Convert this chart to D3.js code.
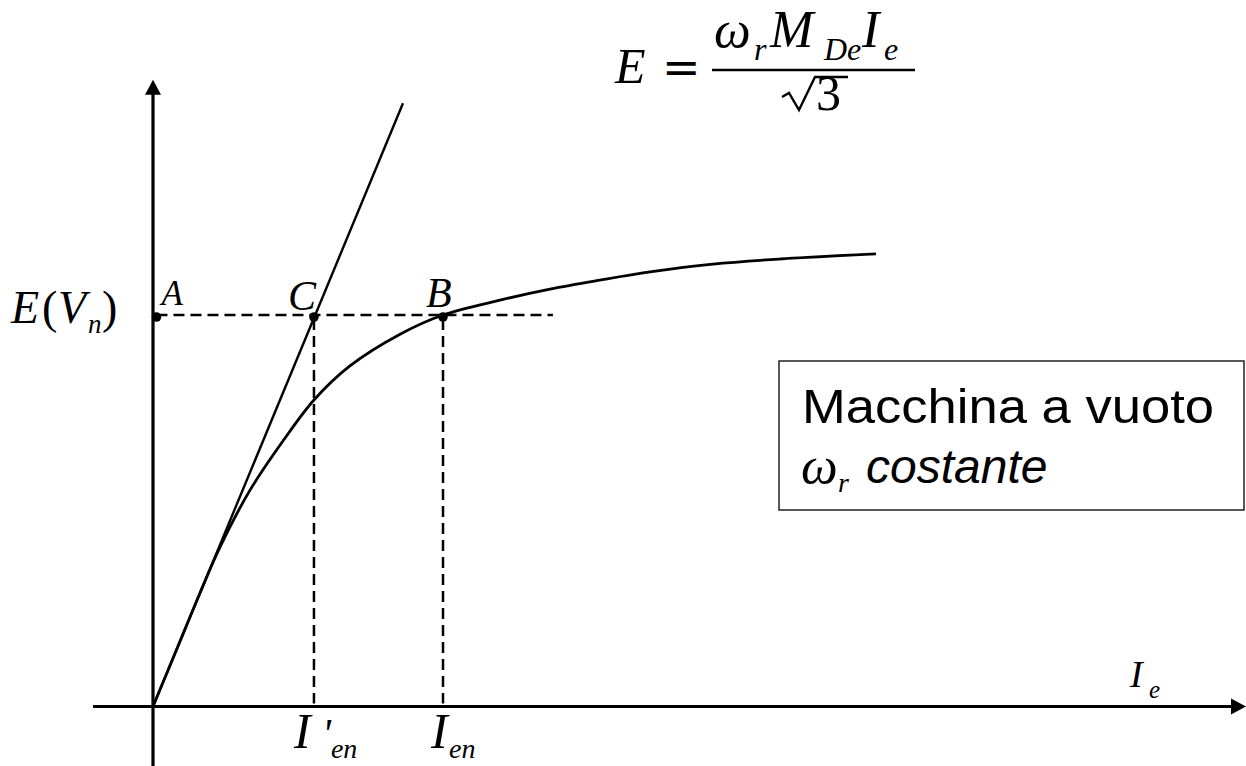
<!DOCTYPE html>
<html>
<head>
<meta charset="utf-8">
<script src="https://cdn.jsdelivr.net/npm/d3@7"></script>
<style>
  body { margin: 0; background: #fff; }
  svg { display: block; }
</style>
</head>
<body>
<script>
// magnetisation curve E(Ie), normalised so that B = (Ien, Vn) = (1, 1)
var curveIe = [0, 0.114, 0.162, 0.231, 0.334, 0.448, 0.555, 0.679, 0.852, 1.0, 1.197, 1.369, 1.541, 1.714, 1.931, 2.162, 2.493];
var curveE  = [0, 0.204, 0.290, 0.407, 0.552, 0.678, 0.783, 0.870, 0.951, 1.0, 1.038, 1.066, 1.089, 1.110, 1.130, 1.143, 1.156];

// air gap line (tangent at the origin)
var tangentIe = [0, 0.862];
var tangentE  = [0, 1.541];

var pointLabels = ['A', 'C', 'B'];
var pointIe = [0.012, 0.555, 1.0];
var Vn = 1.0;
var IenPrime = 0.555;
var Ien = 1.0;
var dashEnd = 1.379;

var axisIe = [-0.207, 3.769];
var axisE = [-0.152, 1.601];

var width = 1246, height = 766;
var serif = '"Liberation Serif", "Times New Roman", serif';
var sans = '"Liberation Sans", Arial, sans-serif';

var svg = d3.select('body').append('svg')
    .attr('width', width)
    .attr('height', height);

var x = d3.scaleLinear().domain([0, 1]).range([153, 443]);
var y = d3.scaleLinear().domain([0, 1]).range([706.5, 315]);

// dashed construction lines
var dashed = svg.append('g')
    .attr('stroke', '#000')
    .attr('stroke-width', 2.5)
    .attr('stroke-dasharray', '11,6');

dashed.append('line')
    .attr('x1', x(pointIe[0])).attr('x2', x(dashEnd))
    .attr('y1', y(Vn)).attr('y2', y(Vn));

[IenPrime, Ien].forEach(function (v) {
    dashed.append('line')
        .attr('x1', x(v)).attr('x2', x(v))
        .attr('y1', y(Vn) + 4).attr('y2', y(0) - 3);
});

// curve and tangent
var line = d3.line()
    .x(function (d) { return x(d[0]); })
    .y(function (d) { return y(d[1]); });

svg.append('path')
    .datum(d3.zip(curveIe, curveE))
    .attr('d', line.curve(d3.curveCatmullRom.alpha(0.5)))
    .attr('fill', 'none')
    .attr('stroke', '#000')
    .attr('stroke-width', 2.8);

svg.append('path')
    .datum(d3.zip(tangentIe, tangentE))
    .attr('d', d3.line().x(function (d) { return x(d[0]); }).y(function (d) { return y(d[1]); }))
    .attr('fill', 'none')
    .attr('stroke', '#000')
    .attr('stroke-width', 2.4);

// axes with arrow heads
var axes = svg.append('g').attr('stroke', '#000').attr('stroke-width', 3.2);
axes.append('line')
    .attr('x1', x(axisIe[0])).attr('x2', x(axisIe[1]) - 10)
    .attr('y1', y(0)).attr('y2', y(0));
axes.append('line')
    .attr('x1', x(0)).attr('x2', x(0))
    .attr('y1', y(axisE[0])).attr('y2', y(axisE[1]) + 10);

var tipX = [x(axisIe[1]), y(0)];
var tipY = [x(0), y(axisE[1])];
svg.append('path')
    .attr('d', 'M' + tipX[0] + ',' + tipX[1] + 'L' + (tipX[0] - 15) + ',' + (tipX[1] - 8) +
               'L' + (tipX[0] - 15) + ',' + (tipX[1] + 8) + 'Z')
    .attr('fill', '#000');
svg.append('path')
    .attr('d', 'M' + tipY[0] + ',' + tipY[1] + 'L' + (tipY[0] - 8) + ',' + (tipY[1] + 15) +
               'L' + (tipY[0] + 8) + ',' + (tipY[1] + 15) + 'Z')
    .attr('fill', '#000');

// points A, C, B
svg.selectAll('.dot')
    .data(pointIe)
    .enter().append('circle')
    .attr('class', 'dot')
    .attr('cx', function (d) { return x(d); })
    .attr('cy', y(Vn) + 2)
    .attr('r', 4.8)
    .attr('fill', '#000');

var labelOffset = [[5, -10, 35], [-26, -5, 42], [-17, -8, 42]];
svg.selectAll('.plabel')
    .data(pointLabels)
    .enter().append('text')
    .attr('class', 'plabel')
    .attr('x', function (d, i) { return x(pointIe[i]) + labelOffset[i][0]; })
    .attr('y', function (d, i) { return y(Vn) + labelOffset[i][1]; })
    .attr('font-family', serif)
    .attr('font-style', 'italic')
    .attr('font-size', function (d, i) { return labelOffset[i][2]; })
    .text(function (d) { return d; });

// math-like text: one <text>, one tspan per piece [str, x, y, size, italic, family]
function mtext(parts) {
    var t = svg.append('text').attr('font-family', serif);
    parts.forEach(function (p) {
        t.append('tspan')
            .attr('x', p[1]).attr('y', p[2])
            .attr('font-size', p[3])
            .attr('font-style', p[4] ? 'italic' : 'normal')
            .attr('font-family', p[5] || null)
            .text(p[0]);
    });
    return t;
}

// E(Vn) on the vertical axis
var vy = y(Vn);
mtext([
    ['E', 11, vy + 8, 46, true],
    ['(', 42, vy + 8, 46, false],
    ['V', 58, vy + 8, 46, true],
    ['n', 88, vy + 18, 27, true],
    [')', 102, vy + 8, 46, false]
]);

// Ie on the horizontal axis
mtext([
    ['I', 1130, 687, 38, true],
    ['e', 1149, 698, 25, true]
]);

// I'en and Ien
mtext([
    ['I', x(IenPrime) - 20, 748, 50, true],
    ["'", x(IenPrime) + 8, 748, 42, true],
    ['en', x(IenPrime) + 17, 758, 28, true]
]);
mtext([
    ['I', x(Ien) - 12, 748, 50, true],
    ['en', x(Ien) + 6, 758, 28, true]
]);

// formula E = wr MDe Ie / sqrt(3)
mtext([
    ['E', 615, 83, 50, true],
    ['=', 662, 83, 46, false, '"DejaVu Serif", serif']
]);
mtext([
    ['\u03c9', 714, 47, 52, true],
    ['r', 754, 60, 32, true],
    ['M', 770, 47, 52, true],
    ['De', 824, 60, 32, true],
    ['I', 862, 47, 52, true],
    ['e', 884, 60, 32, true]
]);
svg.append('line')
    .attr('x1', 712).attr('x2', 915)
    .attr('y1', 70).attr('y2', 70)
    .attr('stroke', '#000').attr('stroke-width', 2.5);
svg.append('path')
    .attr('d', 'M782,97 L789,93 L799,110 L815,77 L848,77')
    .attr('fill', 'none')
    .attr('stroke', '#000')
    .attr('stroke-width', 2.4)
    .attr('stroke-linejoin', 'miter');
mtext([['3', 816, 110, 50, false]]);

// note box
svg.append('rect')
    .attr('x', 779).attr('y', 361)
    .attr('width', 465).attr('height', 149)
    .attr('fill', '#fff')
    .attr('stroke', '#222')
    .attr('stroke-width', 1.5);
svg.append('text')
    .attr('x', 802).attr('y', 423)
    .attr('font-family', sans)
    .attr('font-size', 48)
    .attr('textLength', 412)
    .attr('lengthAdjust', 'spacingAndGlyphs')
    .text('Macchina a vuoto');
mtext([
    ['\u03c9', 801, 483, 52, true],
    ['r', 838, 492, 28, true],
    ['costante', 866, 483, 48, true, sans]
]);
</script>
</body>
</html>
